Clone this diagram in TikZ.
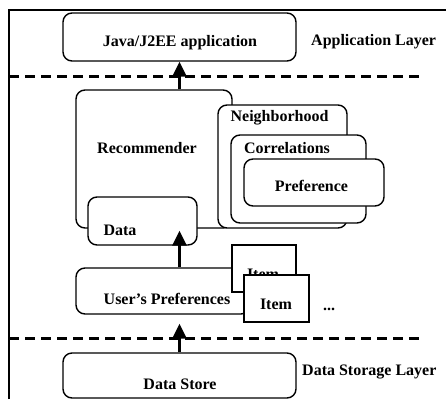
\documentclass[tikz,border=0pt]{standalone}
\usepackage{fontspec}
\setmainfont{Liberation Serif}
\usetikzlibrary{arrows.meta,calc}
\tikzset{
  rbox/.style  ={draw=black, line width=1.4pt, rounded corners=9pt, fill=white, inner sep=0pt},
  sbox/.style  ={draw=black, line width=1.4pt, fill=white, inner sep=0pt},
  txt/.style   ={font=\fontsize{16}{19}\selectfont\bfseries, inner sep=0pt},
  layer/.style ={txt, anchor=west},
  sep/.style   ={line width=3pt, dash pattern=on 10pt off 6pt},
  ar/.style    ={-{Triangle[length=15pt, width=14pt]}, line width=3pt},
}
\begin{document}
\begin{tikzpicture}[x=1pt, y=-1pt]
\useasboundingbox (0,0) rectangle (446,399);
% frame
\draw[line width=1.2pt] (9,399) -- (9,10) -- (446,10);
% application layer
\node[rbox, minimum width=233pt, minimum height=48pt] (java) at (179.5,37) {};
\node[txt] (javat) at ($(java.center)+(0.5,6)$) {Java/J2EE application};
\node[layer] (applayer) at (311,42) {Application Layer};
\coordinate (s1a) at (9,76); \coordinate (s1b) at (425,76);
\draw[sep] (s1a) -- (s1b);
% recommender
\node[rbox, minimum width=156pt, minimum height=138pt] (rec) at (154,159) {};
\node[txt] (rect) at (147,148) {Recommender};
\node[rbox, minimum width=109pt, minimum height=48pt] (data) at (142.5,221) {};
\node[txt] (datat) at (120,230) {Data};
\node[rbox, minimum width=129pt, minimum height=123pt] (nbr) at (282.5,166.5) {};
\node[txt] (nbrt) at (279.5,118) {Neighborhood};
\node[rbox, minimum width=135pt, minimum height=88pt] (cor) at (298.5,179) {};
\node[txt] (cort) at (287,148) {Correlations};
\node[rbox, minimum width=140pt, minimum height=47pt] (pref) at (314,182.5) {};
\node[txt] (preft) at (311.5,186) {Preference};
% preferences
\node[rbox, minimum width=174pt, minimum height=46pt] (upref) at (163,291) {};
\node[txt] (upreft) at (167,299) {User's Preferences};
\node[sbox, minimum width=64pt, minimum height=47pt] (item1) at (264,268.5) {};
\node[txt] (item1t) at (263,274.5) {Item};
\node[sbox, minimum width=65pt, minimum height=47pt] (item2) at (276.5,298.5) {};
\node[txt] (item2t) at (276,304) {Item};
\node[txt, anchor=base] (dots) at (329,310) {...};
\coordinate (s2a) at (9,338); \coordinate (s2b) at (425,338);
\draw[sep] (s2a) -- (s2b);
% data storage layer
\node[rbox, minimum width=233pt, minimum height=45pt] (store) at (179.5,375.5) {};
\node[txt] (storet) at (180,384) {Data Store};
\node[layer] (dslayer) at (302,372) {Data Storage Layer};
% arrows
\draw[ar] (rec.north -| java.south) -- (java.south);
\draw[ar] (upref.north -| java.south) -- ($(data.south -| java.south)+(0,-15)$);
\draw[ar] (store.north -| java.south) -- ($(upref.south -| java.south)+(0,9)$);
\end{tikzpicture}
\end{document}
